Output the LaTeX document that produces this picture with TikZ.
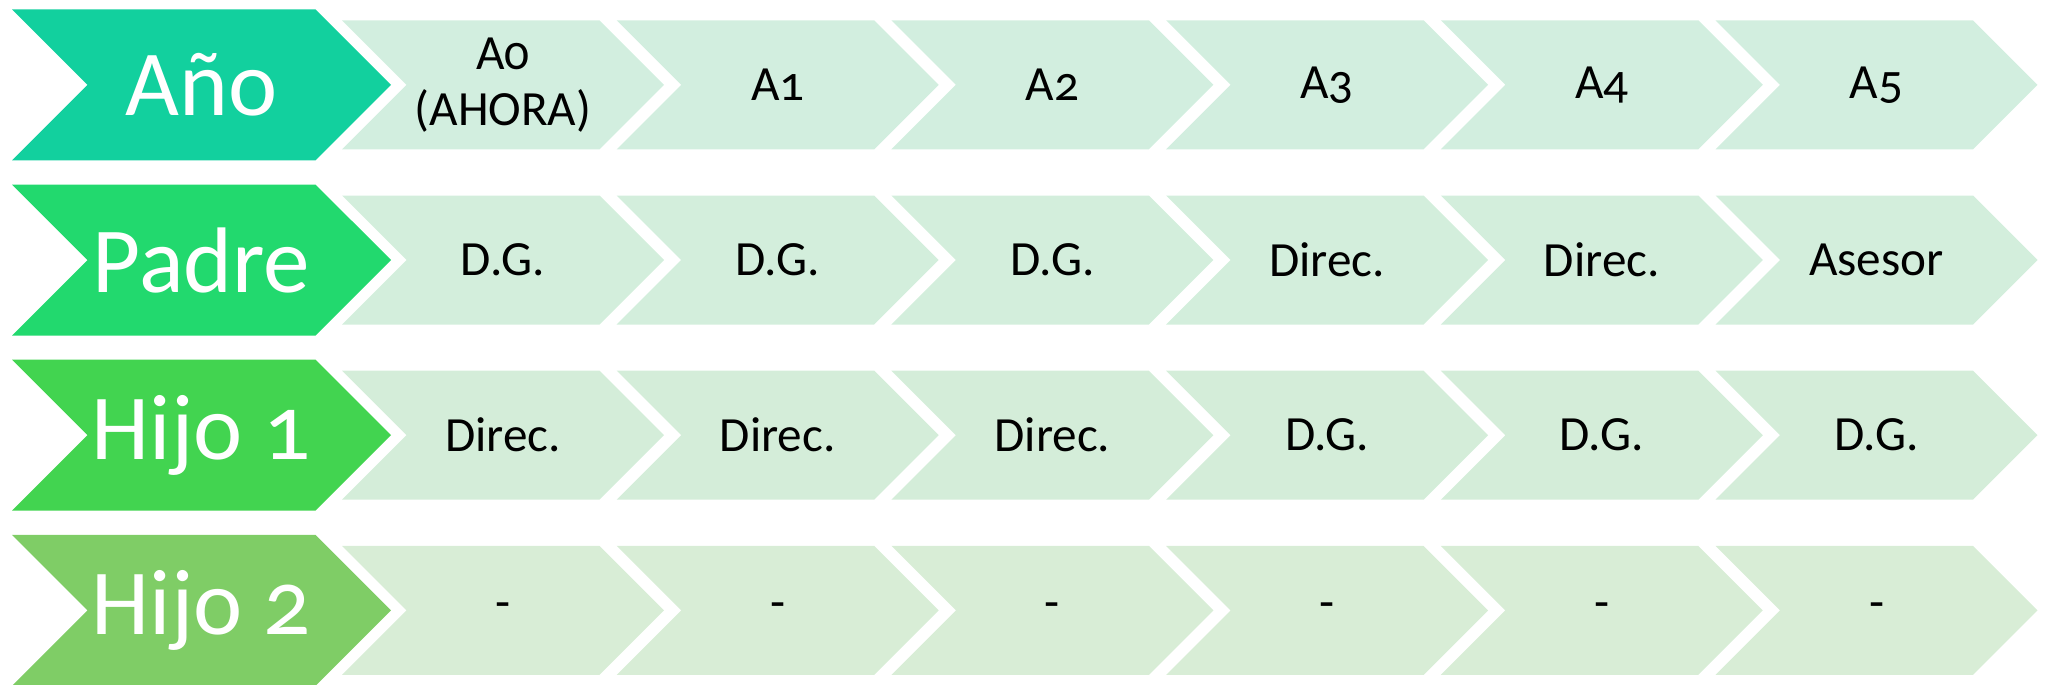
\documentclass[tikz,border=0pt]{standalone}
\usepackage{fontspec}
\setmainfont{Carlito}[Numbers=OldStyle]
\usetikzlibrary{shapes.symbols}

\definecolor{anofej}{RGB}{18,208,158}
\definecolor{padrefej}{RGB}{34,217,110}
\definecolor{hijoafej}{RGB}{66,212,80}
\definecolor{hijobfej}{RGB}{127,205,102}
\definecolor{anocel}{RGB}{210,238,223}
\definecolor{padrecel}{RGB}{211,238,220}
\definecolor{hijoacel}{RGB}{212,237,217}
\definecolor{hijobcel}{RGB}{216,237,214}

\begin{document}
\begin{tikzpicture}[
fej/.style={shape=signal,signal to=east,signal from=west,signal pointer angle=90,
  inner sep=0pt,outer sep=0pt,minimum height=1.51cm,minimum width=3.79cm,
  text=white,font=\fontsize{26.5}{28}\selectfont},
cella/.style={shape=signal,signal to=east,signal from=west,signal pointer angle=90,
  inner sep=0pt,outer sep=0pt,minimum height=1.29cm,minimum width=3.22cm,
  align=center,font=\fontsize{14}{16}\selectfont}]

\useasboundingbox (0,0) rectangle (20.45,-6.84);

% fejlecek
\node[fej,fill=anofej] (ano) at (2.015,-0.848) {Año};
\node[fej,fill=padrefej] (padre) at (2.015,-2.600) {Padre};
\node[fej,fill=hijoafej] (hijoa) at (2.015,-4.352) {Hijo 1};
\node[fej,fill=hijobfej] (hijob) at (2.015,-6.104) {Hijo 2};

% cellak
\foreach \t [count=\i from 0] in {{A0\\(AHORA)},A1,A2,A3,A4,A5}
  \node[cella,fill=anocel] (ano\i) at (5.03+2.747*\i,-0.848) {\t};
\foreach \t [count=\i from 0] in {D.G.,D.G.,D.G.,Direc.,Direc.,Asesor}
  \node[cella,fill=padrecel] (padre\i) at (5.03+2.747*\i,-2.600) {\t};
\foreach \t [count=\i from 0] in {Direc.,Direc.,Direc.,D.G.,D.G.,D.G.}
  \node[cella,fill=hijoacel] (hijoa\i) at (5.03+2.747*\i,-4.352) {\t};
\foreach \t [count=\i from 0] in {-,-,-,-,-,-}
  \node[cella,fill=hijobcel] (hijob\i) at (5.03+2.747*\i,-6.104) {\t};
\end{tikzpicture}
\end{document}
